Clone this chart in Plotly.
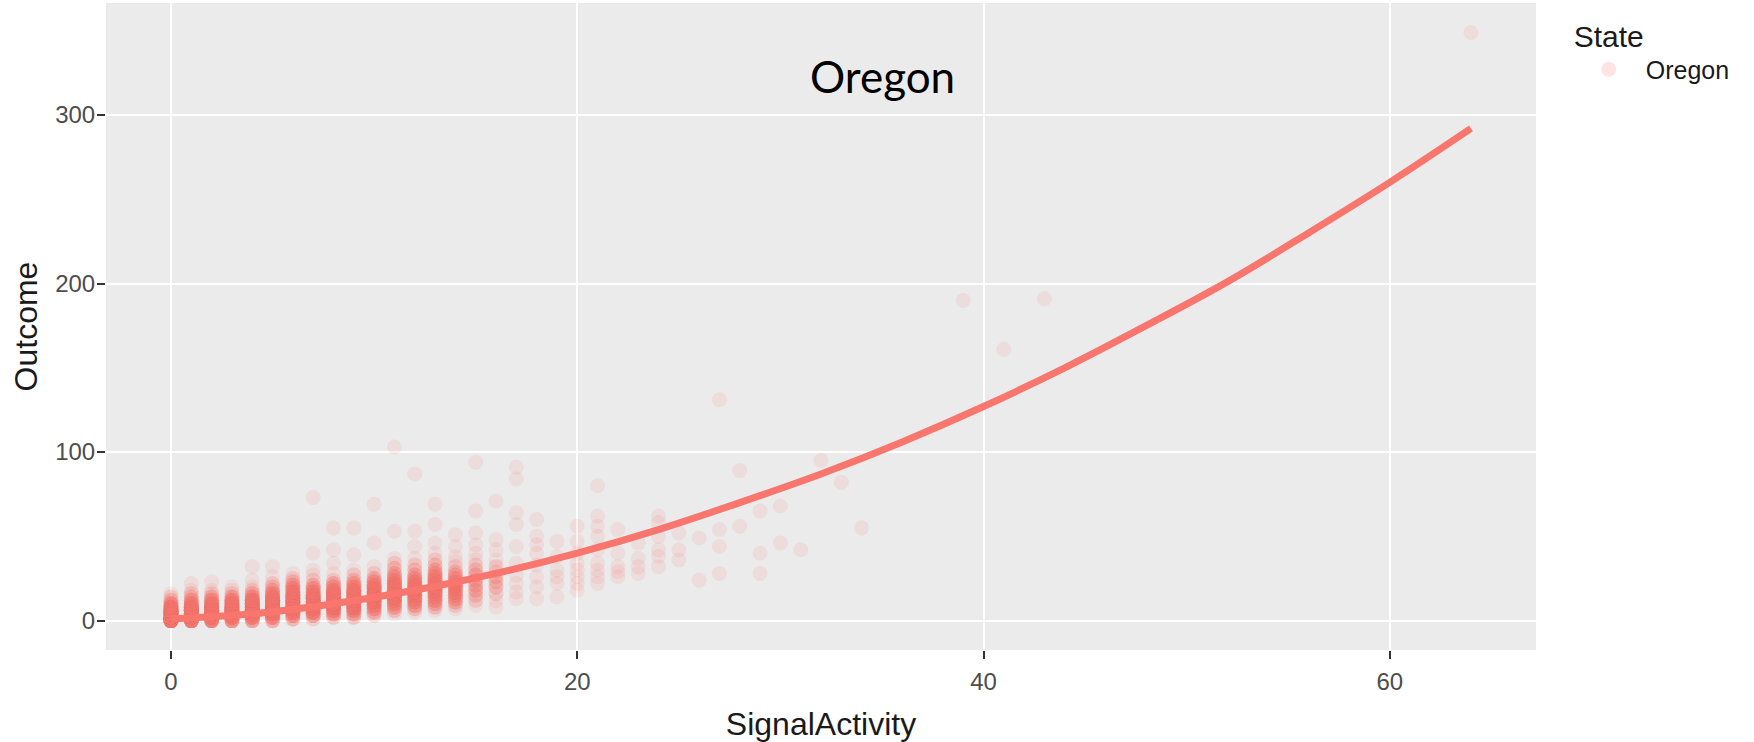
import plotly.graph_objects as go
import numpy as np

# ---- dense columns (x, y, multiplicity) ----
dense_x = (
    [0]*9 + [1]*11 + [2]*11 + [3]*11 + [4]*13 + [5]*14 + [6]*14 + [7]*16 +
    [8]*16 + [9]*16 + [10]*16 + [11]*18 + [12]*18 + [13]*19 + [14]*17 + [15]*15 + [16]*12
)
dense_y = [
    0, 2, 4, 6, 8, 10, 12, 14, 16,
    0, 2, 4, 6, 8, 10, 12, 14, 16, 18, 22,
    0, 2, 4, 6, 8, 10, 12, 14, 16, 18, 23,
    0, 2, 4, 6, 8, 10, 12, 14, 16, 18, 20,
    0, 2, 4, 6, 8, 10, 12, 14, 16, 18, 20, 24, 32,
    0, 2, 4, 6, 8, 10, 12, 14, 16, 18, 20, 22, 26, 32,
    1, 3, 5, 7, 9, 11, 13, 15, 17, 19, 21, 23, 25, 28,
    1, 3, 5, 7, 9, 11, 13, 15, 17, 19, 21, 24, 27, 30, 40, 73,
    2, 4, 6, 8, 10, 12, 14, 16, 18, 20, 22, 24, 28, 34, 42, 55,
    2, 4, 6, 8, 10, 12, 14, 16, 18, 20, 22, 24, 27, 30, 39, 55,
    3, 5, 7, 9, 11, 13, 15, 17, 19, 21, 23, 25, 28, 32, 46, 69,
    4, 6, 8, 10, 12, 14, 16, 18, 20, 22, 24, 26, 28, 31, 34, 37, 53, 103,
    5, 7, 9, 11, 13, 15, 17, 19, 21, 23, 25, 27, 30, 33, 37, 44, 53, 87,
    6, 8, 10, 12, 14, 16, 18, 20, 22, 24, 26, 28, 30, 33, 36, 40, 46, 57, 69,
    7, 9, 11, 13, 15, 17, 19, 21, 23, 25, 27, 29, 32, 35, 38, 44, 51,
    9, 12, 15, 18, 21, 24, 27, 30, 33, 36, 40, 45, 52, 65, 94,
    8, 12, 16, 20, 23, 26, 29, 32, 36, 42, 48, 71,
]
dense_n = [
    30, 30, 25, 20, 14, 7, 3, 2, 1,
    20, 25, 25, 20, 15, 9, 5, 3, 2, 1, 1,
    14, 20, 24, 20, 16, 11, 7, 4, 2, 1, 1,
    10, 15, 20, 20, 17, 13, 9, 5, 2, 1, 1,
    7, 12, 16, 18, 18, 16, 12, 7, 4, 2, 1, 1, 1,
    5, 9, 14, 16, 18, 18, 16, 12, 7, 4, 3, 2, 1, 1,
    4, 8, 11, 14, 16, 16, 15, 13, 10, 7, 5, 3, 2, 1,
    2, 6, 10, 13, 15, 16, 15, 12, 9, 6, 4, 2, 1, 1, 1, 1,
    3, 6, 10, 13, 15, 15, 14, 12, 9, 6, 4, 2, 1, 1, 1, 1,
    3, 5, 8, 11, 13, 14, 14, 12, 10, 8, 5, 3, 2, 1, 1, 1,
    2, 4, 6, 9, 11, 12, 12, 12, 10, 8, 6, 4, 2, 1, 1, 1,
    1, 3, 5, 7, 9, 11, 12, 12, 11, 9, 7, 5, 4, 3, 2, 1, 1, 1,
    1, 3, 5, 7, 8, 9, 10, 10, 9, 8, 6, 4, 3, 2, 1, 1, 1, 1,
    1, 3, 4, 6, 7, 8, 9, 9, 9, 8, 7, 5, 4, 3, 2, 1, 1, 1, 1,
    1, 2, 4, 5, 6, 7, 7, 7, 6, 5, 4, 3, 2, 1, 1, 1, 1,
    1, 2, 3, 4, 4, 4, 4, 3, 2, 1, 1, 1, 1, 1, 1,
    1, 1, 2, 3, 3, 3, 2, 2, 1, 1, 1, 1,
]

# ---- sparse points ----
sparse_x = (
    [17]*10 + [18]*8 + [19]*6 + [20]*8 + [21]*9 + [22]*5 + [23]*4 + [24]*6 +
    [25]*3 + [26]*2 + [27]*4 + [28]*2 + [29]*3 + [30]*2 + [31, 32, 33, 34, 39, 41, 43, 64]
)
sparse_y = [
    13, 17, 22, 27, 34, 44, 57, 64, 84, 91,
    13, 20, 26, 33, 40, 45, 50, 60,
    14, 22, 26, 30, 38, 47,
    18, 22, 26, 30, 34, 40, 47, 56,
    22, 26, 30, 34, 42, 50, 56, 62, 80,
    26, 29, 32, 40, 54,
    28, 32, 37, 46,
    32, 38, 42, 50, 58, 62,
    36, 42, 52,
    24, 49,
    28, 44, 54, 131,
    56, 89,
    28, 40, 65,
    46, 68,
    42, 95, 82, 55, 190, 161, 191, 349,
]

# ---- smooth fit curve ----
fit_x = [0, 4, 8, 12, 16, 20, 24, 28, 32, 36, 40, 44, 48, 52, 56, 60, 64]
fit_y = [1, 4, 10, 18, 28, 40, 54, 70, 87, 106, 127, 150, 175, 201, 230, 260, 292]

x_ticks = [0, 20, 40, 60]
y_ticks = [0, 100, 200, 300]

all_x = list(np.repeat(dense_x, dense_n)) + sparse_x
all_y = list(np.repeat(dense_y, dense_n)) + sparse_y

RED = "#F8766D"

fig = go.Figure()
fig.add_trace(go.Scatter(
    x=all_x, y=all_y, mode="markers", name="Oregon",
    marker=dict(color=RED, size=15, opacity=0.12, line=dict(width=0)),
    showlegend=True, hoverinfo="skip",
))
fig.add_trace(go.Scatter(
    x=fit_x, y=fit_y, mode="lines", line=dict(color=RED, width=7, shape="spline"),
    showlegend=False, hoverinfo="skip",
))

font_family = "Liberation Sans, Arial, sans-serif"

fig.update_layout(
    width=1754, height=742,
    margin=dict(l=106, r=218, t=3, b=92),
    paper_bgcolor="white", plot_bgcolor="#EBEBEB",
    font=dict(family=font_family, color="#000000"),
    xaxis=dict(
        range=[-3.2, 67.2], tickvals=x_ticks, ticktext=[str(v) for v in x_ticks],
        showgrid=True, gridcolor="white", gridwidth=2, zeroline=False,
        ticks="outside", ticklen=8, tickwidth=2, tickcolor="#333333",
        ticklabelstandoff=2,
        tickfont=dict(size=24, color="#4D4D4D"),
        title=dict(text="SignalActivity", font=dict(size=32, color="#1A1A1A"), standoff=20),
    ),
    yaxis=dict(
        range=[-17.45, 366.45], tickvals=y_ticks, ticktext=[str(v) for v in y_ticks],
        showgrid=True, gridcolor="white", gridwidth=2, zeroline=False,
        ticks="outside", ticklen=8, tickwidth=2, tickcolor="#333333",
        ticklabelstandoff=-3,
        tickfont=dict(size=24, color="#4D4D4D"),
        title=dict(text="Outcome", font=dict(size=32, color="#1A1A1A"), standoff=7),
    ),
    legend=dict(
        x=1.025, y=0.993, xanchor="left", yanchor="top", itemwidth=64,
        title=dict(text="State", font=dict(size=30, color="#1A1A1A")),
        font=dict(size=25, color="#1A1A1A"), bgcolor="rgba(0,0,0,0)",
    ),
    annotations=[dict(
        text="Oregon", x=0.543, y=0.887, xref="paper", yref="paper",
        xanchor="center", yanchor="middle",
        showarrow=False, font=dict(family="Lato, Carlito, sans-serif", size=44, color="#000000"),
    )],
)

fig.write_html(
    "out.html",
    config={"displayModeBar": False},
    post_script="document.body.style.margin='0px';",
)
